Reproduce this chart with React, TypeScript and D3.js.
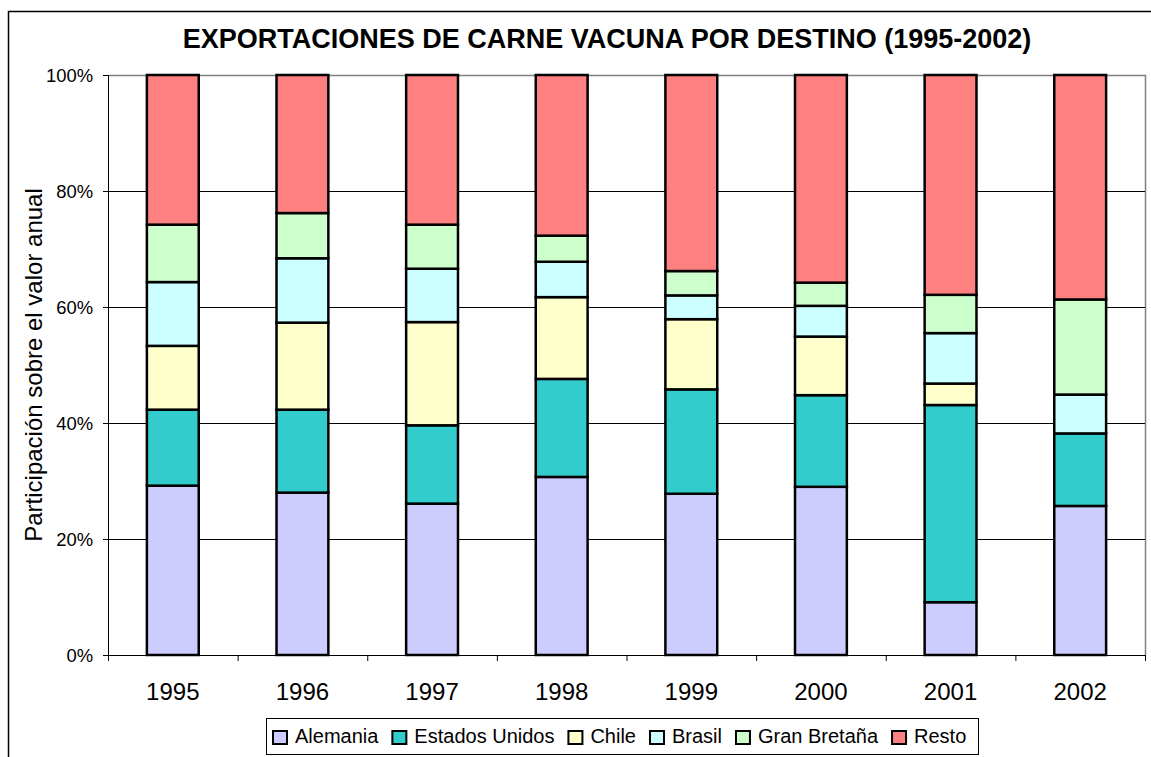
import React from "react";
import * as d3 from "d3";

const years = ["1995", "1996", "1997", "1998", "1999", "2000", "2001", "2002"];
const seriesNames = ["Alemania", "Estados Unidos", "Chile", "Brasil", "Gran Bretaña", "Resto"];
const alemania = [29.2, 28.0, 26.1, 30.7, 27.8, 29.0, 9.1, 25.7];
const estadosUnidos = [13.1, 14.3, 13.5, 16.9, 18.0, 15.8, 34.0, 12.5];
const chile = [11.0, 15.0, 17.8, 14.1, 12.1, 10.1, 3.7, 0.0];
const brasil = [11.0, 11.1, 9.2, 6.1, 4.1, 5.3, 8.7, 6.7];
const granBretana = [9.9, 7.8, 7.6, 4.5, 4.2, 4.0, 6.6, 16.4];
const resto = [25.8, 23.8, 25.8, 27.7, 33.8, 35.8, 37.9, 38.7];
const yTicks = [0, 20, 40, 60, 80, 100];
const colors = ["#CCCCFF", "#33CCCC", "#FFFFCC", "#CCFFFF", "#CCFFCC", "#FF8080"];

const W = 1151;
const H = 757;
const M = { left: 108, right: 1145, top: 75, bottom: 655 };

export default function App() {
  const seriesArrays = [alemania, estadosUnidos, chile, brasil, granBretana, resto];
  const rows = years.map((y, i) => {
    const r: any = { year: y };
    seriesNames.forEach((s, k) => (r[s] = seriesArrays[k][i]));
    return r;
  });
  const stack = d3.stack<any>().keys(seriesNames).offset(d3.stackOffsetExpand);
  const layers = stack(rows);

  const x = d3
    .scaleBand<string>()
    .domain(years)
    .range([M.left, M.right])
    .paddingInner(0.6)
    .paddingOuter(0.3);
  const y = d3.scaleLinear().domain([0, 1]).range([M.bottom, M.top]);
  const step = x.step();
  const tickX = d3.range(years.length + 1).map((i) => M.left + i * step);

  // legend layout
  const legFont = 20;
  const legX0 = 266;
  const legY0 = 718;
  const legW = 712;
  const legH = 36;
  const emW: Record<string, number> = {
    Alemania: 4.168,
    "Estados Unidos": 7.003,
    Chile: 2.278,
    Brasil: 2.5,
    "Gran Bretaña": 6.003,
    Resto: 2.612,
  };
  let cur = legX0 + 7;
  const legItems = seriesNames.map((s, k) => {
    const item = { name: s, x: cur, color: colors[k] };
    cur += 22 + emW[s] * legFont + 14;
    return item;
  });

  const font = "Arial, 'Liberation Sans', Helvetica, sans-serif";

  return (
    <svg width={W} height={H} style={{ position: "absolute", left: 0, top: 0, display: "block" }}>
      <rect x={0} y={0} width={W} height={H} fill="#fff" />
      {/* chart area border */}
      <path d={`M8.5,${H + 5} V11.5 H${W + 5}`} fill="none" stroke="#000" strokeWidth={1.5} />
      {/* title */}
      <text
        x={607}
        y={48}
        textAnchor="middle"
        fontFamily={font}
        fontWeight="bold"
        fontSize={27}
        fill="#000"
      >
        EXPORTACIONES DE CARNE VACUNA POR DESTINO (1995-2002)
      </text>
      {/* plot border (top/right) */}
      <path
        d={`M${M.left},${M.top + 0.5} H${M.right + 0.5} V${M.bottom}`}
        fill="none"
        stroke="#808080"
        strokeWidth={1.5}
      />
      {/* gridlines */}
      {yTicks
        .filter((t) => t > 0 && t < 100)
        .map((t) => (
          <line
            key={"g" + t}
            x1={M.left}
            x2={M.right}
            y1={Math.round(y(t / 100)) + 0.5}
            y2={Math.round(y(t / 100)) + 0.5}
            stroke="#000"
            strokeWidth={1}
          />
        ))}
      {/* bars */}
      {layers.map((layer, k) =>
        layer.map((d, i) => {
          const y0 = y(d[0]);
          const y1 = y(d[1]);
          if (y0 - y1 <= 0) return null;
          return (
            <rect
              key={k + "-" + i}
              x={x(years[i])}
              y={y1}
              width={x.bandwidth()}
              height={y0 - y1}
              fill={colors[k]}
              stroke="#000"
              strokeWidth={2.5}
            />
          );
        })
      )}
      {/* y axis */}
      <line x1={M.left + 0.5} x2={M.left + 0.5} y1={M.top} y2={M.bottom} stroke="#000" strokeWidth={1} />
      {yTicks.map((t) => (
        <g key={"yt" + t}>
          <line
            x1={M.left - 5}
            x2={M.left}
            y1={Math.round(y(t / 100)) + 0.5}
            y2={Math.round(y(t / 100)) + 0.5}
            stroke="#000"
          />
          <text
            x={93}
            y={y(t / 100) + 6.5}
            textAnchor="end"
            fontFamily={font}
            fontSize={18.4}
            fill="#000"
          >
            {t + "%"}
          </text>
        </g>
      ))}
      {/* x axis */}
      <line x1={M.left} x2={M.right} y1={M.bottom + 0.5} y2={M.bottom + 0.5} stroke="#000" strokeWidth={1} />
      {tickX.map((tx, i) => (
        <line key={"xt" + i} x1={tx + 0.5} x2={tx + 0.5} y1={M.bottom} y2={M.bottom + 6} stroke="#000" />
      ))}
      {years.map((yr) => (
        <text
          key={"xl" + yr}
          x={(x(yr) as number) + x.bandwidth() / 2}
          y={700}
          textAnchor="middle"
          fontFamily={font}
          fontSize={24}
          fill="#000"
        >
          {yr}
        </text>
      ))}
      {/* y title */}
      <text
        transform={`translate(42,${(M.top + M.bottom) / 2}) rotate(-90)`}
        textAnchor="middle"
        fontFamily={font}
        fontSize={24}
        fill="#000"
      >
        Participación sobre el valor anual
      </text>
      {/* legend */}
      <rect x={legX0 + 0.5} y={legY0 + 0.5} width={legW} height={legH} fill="#fff" stroke="#000" strokeWidth={1} />
      {legItems.map((it) => (
        <g key={"lg" + it.name}>
          <rect x={it.x} y={731} width={14} height={13} fill={it.color} stroke="#000" strokeWidth={2} />
          <text x={it.x + 22} y={743} fontFamily={font} fontSize={legFont} fill="#000">
            {it.name}
          </text>
        </g>
      ))}
    </svg>
  );
}
